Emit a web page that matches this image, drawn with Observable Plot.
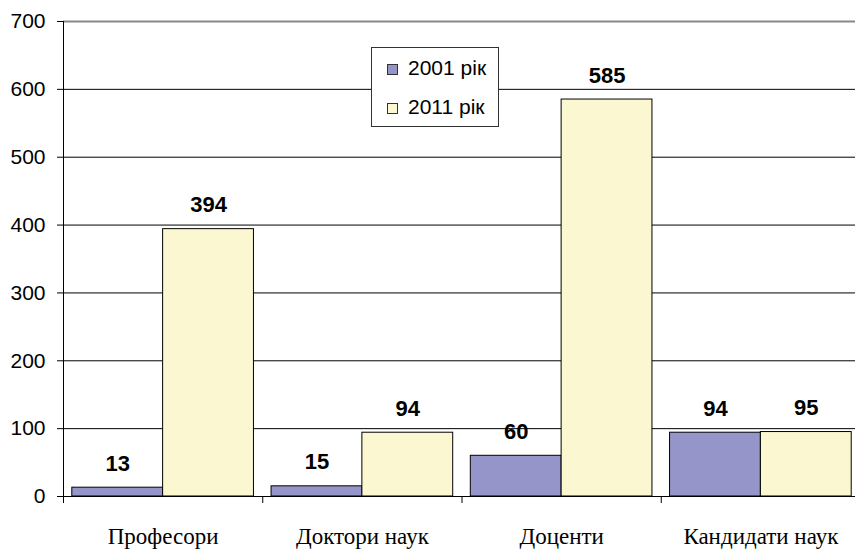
<!DOCTYPE html>
<html>
<head>
<meta charset="utf-8">
<script src="https://cdn.jsdelivr.net/npm/d3@7"></script>
<script src="https://cdn.jsdelivr.net/npm/@observablehq/plot@0.6"></script>
<style>
  html, body { margin: 0; padding: 0; background: #fff; overflow: hidden; }
  #wrap { position: relative; width: 855px; height: 550px; }
  #legend {
    position: absolute; left: 371px; top: 47px; width: 128px; height: 80px;
    border: 1px solid #333; background: #fff;
    font-family: "Liberation Sans", Arial, sans-serif; font-size: 21px; color: #000;
    display: flex; flex-direction: column; justify-content: center; padding-left: 15px; box-sizing: border-box;
  }
  .item { display: flex; align-items: center; height: 39px; }
  .sw { width: 9px; height: 9px; border: 1px solid #333; margin-right: 10px; margin-top: 3px; }
</style>
</head>
<body>
<div id="wrap"><div id="legend"></div></div>
<script>
// ---- data ----
const categories = ["Професори", "Доктори наук", "Доценти", "Кандидати наук"];
const values2001 = [13, 15, 60, 94];
const values2011 = [394, 94, 585, 95];
const seriesNames = ["2001 рік", "2011 рік"];
const seriesColors = ["#9595c9", "#fbf8d1"];
const yTicks = [0, 100, 200, 300, 400, 500, 600, 700];

// ---- layout ----
const W = 855, H = 550;
const mL = 63, mR = -5, mT = 21, mB = 54;
const step = (W - mR - mL) / categories.length;
const half = step / 2;
const pad = 8.8;
const labelShift = (half - pad) / 2;
const yMax = yTicks[yTicks.length - 1];

const rows2001 = categories.map((c, i) => ({category: c, value: values2001[i]}));
const rows2011 = categories.map((c, i) => ({category: c, value: values2011[i]}));

const sans = "'Liberation Sans', Arial, sans-serif";
const serif = "'Liberation Serif', 'Times New Roman', serif";

const chart = Plot.plot({
  width: W, height: H,
  marginLeft: mL, marginRight: mR, marginTop: mT, marginBottom: mB,
  style: {fontFamily: sans, background: "#fff", color: "#000"},
  x: {domain: categories, padding: 0, round: false},
  y: {domain: [0, yMax]},
  marks: [
    Plot.ruleY(yTicks.filter(t => t > 0 && t < yMax), {stroke: "#000", strokeWidth: 1}),
    Plot.ruleY([yMax], {stroke: "#888", strokeWidth: 2}),
    Plot.barY(rows2001, {x: "category", y: "value", fill: seriesColors[0], stroke: "#000", strokeWidth: 1, insetLeft: pad, insetRight: half}),
    Plot.barY(rows2011, {x: "category", y: "value", fill: seriesColors[1], stroke: "#000", strokeWidth: 1, insetLeft: half, insetRight: pad}),
    Plot.ruleY([0], {stroke: "#000", strokeWidth: 1}),
    Plot.ruleX([categories[0]], {dx: -half, stroke: "#000", insetBottom: -7}),
    Plot.ruleX(categories, {dx: -half, y1: 0, y2: 0, insetBottom: -7, stroke: "#000"}),
    Plot.ruleX([categories[categories.length - 1]], {dx: half, y1: 0, y2: 0, insetBottom: -7, stroke: "#000"}),
    Plot.text(rows2001, {x: "category", y: "value", text: d => String(d.value), dx: -labelShift, dy: -24, fontSize: 22, fontWeight: "bold", fontFamily: sans, fill: "#000", lineAnchor: "middle"}),
    Plot.text(rows2011, {x: "category", y: "value", text: d => String(d.value), dx: labelShift, dy: -24, fontSize: 22, fontWeight: "bold", fontFamily: sans, fill: "#000", lineAnchor: "middle"}),
    Plot.axisY({ticks: yTicks, tickSize: 6, tickPadding: 12, fontSize: 21, fontFamily: sans, label: null, tickFormat: d => String(d)}),
    Plot.axisX({tickSize: 0, tickPadding: 31, fontSize: 23, fontFamily: serif, label: null})
  ]
});
document.getElementById("wrap").prepend(chart);

const legend = document.getElementById("legend");
seriesNames.forEach((name, i) => {
  const item = document.createElement("div");
  item.className = "item";
  const sw = document.createElement("span");
  sw.className = "sw";
  sw.style.background = seriesColors[i];
  const t = document.createElement("span");
  t.textContent = name;
  item.append(sw, t);
  legend.append(item);
});
</script>
</body>
</html>
